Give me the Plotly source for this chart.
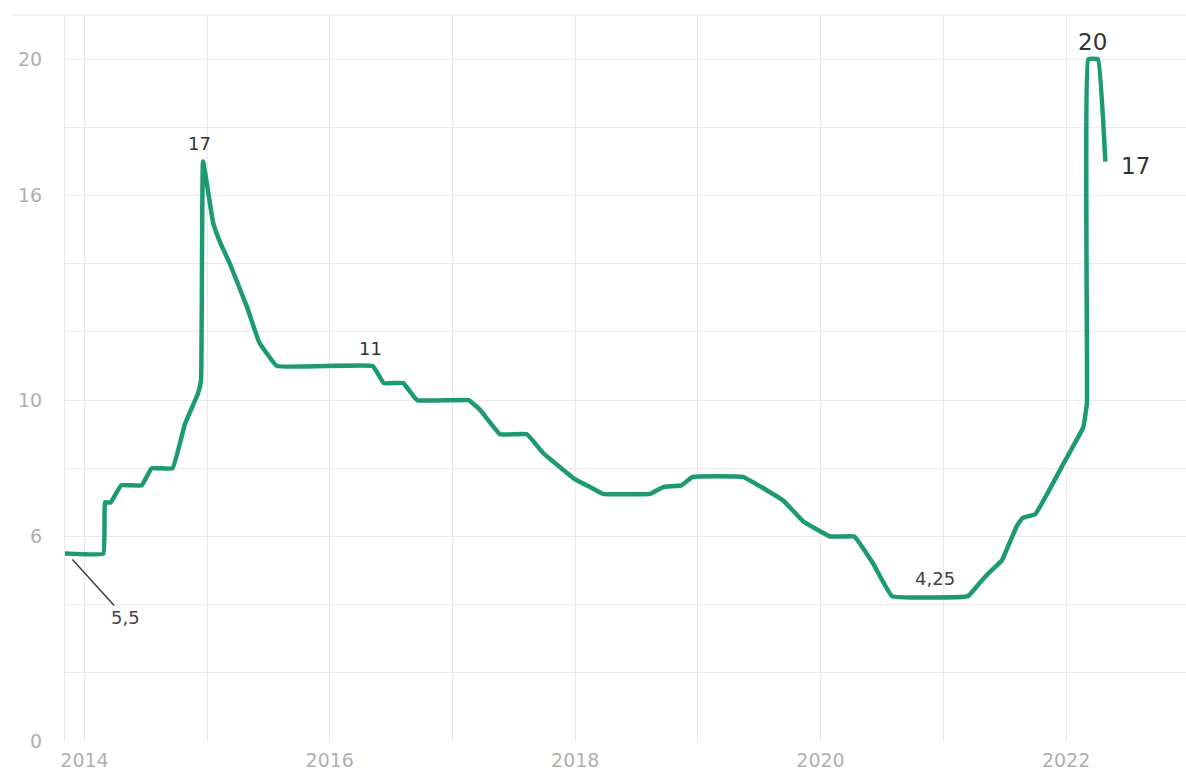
import plotly.graph_objects as go

# Key rate, %
dates = [
    "2013-11-04", "2014-02-26", "2014-03-03", "2014-03-20", "2014-04-20", "2014-06-20",
    "2014-07-20", "2014-09-20", "2014-10-27", "2014-12-05", "2014-12-14", "2014-12-20",
    "2015-01-19", "2015-02-10", "2015-03-10", "2015-05-01", "2015-06-05", "2015-07-28",
    "2016-05-08", "2016-06-10", "2016-08-07", "2016-09-17", "2017-02-17", "2017-03-25",
    "2017-05-22", "2017-08-10", "2017-09-27", "2017-10-27", "2017-12-28", "2018-02-14",
    "2018-03-25", "2018-08-11", "2018-09-20", "2018-11-13", "2018-12-16", "2019-05-15",
    "2019-07-26", "2019-09-13", "2019-11-10", "2020-01-30", "2020-04-10", "2020-06-06",
    "2020-08-01", "2021-03-15", "2021-04-20", "2021-05-18", "2021-06-24", "2021-08-07",
    "2021-08-25", "2021-10-01", "2021-12-25", "2022-01-22", "2022-02-21", "2022-03-04",
    "2022-03-08", "2022-04-06", "2022-04-28",
]
rates = [
    5.5, 5.5, 7.0, 7.0, 7.5, 7.5,
    8.0, 8.0, 9.3, 10.2, 10.6, 17.0,
    15.2, 14.6, 14.0, 12.7, 11.7, 11.0,
    11.0, 10.5, 10.5, 10.0, 10.0, 9.7,
    9.0, 9.0, 8.45, 8.2, 7.7, 7.45,
    7.25, 7.25, 7.45, 7.5, 7.75, 7.75,
    7.35, 7.05, 6.45, 6.0, 6.0, 5.2,
    4.25, 4.25, 4.65, 4.95, 5.3, 6.3,
    6.55, 6.65, 8.15, 8.65, 9.2, 9.9,
    20.0, 20.0, 17.0,
]

year_ticks = [f"{y}-01-01" for y in range(2014, 2024)]
year_labels = [str(y) if y % 2 == 0 else "" for y in range(2014, 2024)]
y_ticks = list(range(0, 22, 2))
y_labels = [str(v) if v in (0, 6, 10, 16, 20) else "" for v in y_ticks]

GREEN = "#1e9b6c"
GRID = "#e9e9e9"
TICK = "#b0b0b0"
TEXT = "#333333"
FONT = "DejaVu Sans, sans-serif"

fig = go.Figure()
fig.add_trace(go.Scatter(
    x=dates, y=rates, mode="lines",
    line=dict(color=GREEN, width=4.5, shape="spline", smoothing=0.25),
    hoverinfo="skip", showlegend=False,
))

small = dict(family=FONT, size=18, color=TEXT)
mid = dict(family=FONT, size=18, color="#444444")
big = dict(family=FONT, size=23, color=TEXT)
fig.add_annotation(x=dates[11], y=rates[11], text="17", showarrow=False,
                   font=small, yshift=18, xshift=-4)
fig.add_annotation(x=dates[18], y=rates[18], text="11", showarrow=False,
                   font=small, yshift=18, xshift=-2)
fig.add_annotation(x=dates[43], y=rates[42], text="4,25", showarrow=False,
                   font=mid, yshift=18, xshift=-33)
fig.add_annotation(x="2022-03-22", y=20, text="20", showarrow=False,
                   font=big, yshift=17)
fig.add_annotation(x=dates[-1], y=rates[-1], text="17", showarrow=False,
                   font=big, xshift=30, yshift=-4)
# 5,5 label with leader line
fig.add_annotation(x="2013-11-10", y=rates[0], text="5,5", showarrow=True,
                   arrowhead=0, arrowwidth=1.6, arrowcolor="#444444",
                   ax=58, ay=64, standoff=8, font=mid)

# top rule
fig.add_shape(type="line", xref="paper", yref="paper", x0=-0.047, x1=1, y0=1, y1=1,
              line=dict(color=GRID, width=1))

fig.update_layout(
    width=1186, height=776,
    margin=dict(l=65, r=0, t=15, b=35),
    paper_bgcolor="white", plot_bgcolor="white",
    font=dict(family=FONT),
    xaxis=dict(
        type="date", range=["2013-11-04", "2022-12-24"],
        tickmode="array", tickvals=year_ticks, ticktext=year_labels,
        showgrid=True, gridcolor=GRID, gridwidth=1,
        zeroline=False, showline=False,
        tickfont=dict(size=19, color=TICK), ticks="",
        ticklabelstandoff=6,
    ),
    yaxis=dict(
        range=[0, 21.3],
        tickmode="array", tickvals=y_ticks, ticktext=y_labels,
        showgrid=True, gridcolor=GRID, gridwidth=1,
        zeroline=False, showline=True, linecolor=GRID, linewidth=1,
        tickfont=dict(size=19, color=TICK), ticks="",
        ticklabelstandoff=18,
    ),
)

fig.write_html("out.html")
